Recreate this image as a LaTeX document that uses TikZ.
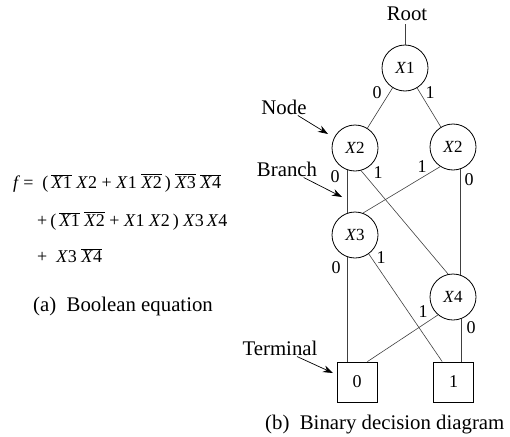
\documentclass[tikz,border=0pt]{standalone}
\usepackage{fontspec}
\setmainfont{Liberation Serif}
\usetikzlibrary{arrows.meta}

\newcommand{\ovl}[1]{$\overline{\mbox{#1}}$}
\newcommand{\xv}[1]{\textit{X}#1}

\tikzset{
  every node/.style={font=\fontsize{20.8}{25}\selectfont},
  bddvar/.style={draw,circle,minimum size=46pt,inner sep=0pt,line width=0.8pt,
    font=\fontsize{17}{20}\selectfont},
  bddterm/.style={draw,rectangle,minimum size=40pt,inner sep=0pt,line width=0.8pt,
    font=\fontsize{18}{20}\selectfont},
  bddedge/.style={line width=0.6pt,black!75},
  edgelbl/.style={font=\fontsize{18}{20}\selectfont},
  pointer/.style={-{Stealth[length=10pt,width=7pt]},line width=0.7pt},
  txt/.style={inner sep=0pt,anchor=base west},
  eqline/.style={txt,font=\fontsize{18}{20}\selectfont}
}

\begin{document}
\begin{tikzpicture}[x=1pt,y=-1pt]
\useasboundingbox (0,0) rectangle (510,436);

% (a) equation
\node[eqline] (eqA) at (13,188) {\textit{f}\,=\ \ (\,\ovl{\xv1} \xv2 + \xv1 \ovl{\xv2}\,) \ovl{\xv3} \ovl{\xv4}};
\node[eqline] (eqB) at (37,226) {+\,(\,\ovl{\xv1} \ovl{\xv2} + \xv1 \xv2\,) \xv3\,\xv4};
\node[eqline] (eqC) at (37,262) {+\ \ \xv3 \ovl{\xv4}};
\node[txt] (capA) at (33,311) {(a)~~Boolean equation};

% (b) diagram
\node (root) at (407,14) {Root};

\node[bddvar] (x1) at (405,68) {\xv1};
\node[bddvar] (x2a) at (355,148) {\xv2};
\node[bddvar] (x2b) at (453,147) {\xv2};
\node[bddvar] (x3) at (355,235) {\xv3};
\node[bddvar] (x4) at (453,297) {\xv4};

\node[bddterm] (t0) at (357,382) {0};
\node[bddterm] (t1) at (453.5,382) {1};

\draw[bddedge] (x1.north |- root.south) -- (x1.north);
\draw[bddedge] (x1) -- (x2a);
\draw[bddedge] (x1) -- (x2b);
\draw[bddedge] (x2a.250) -- (x3.110);
\draw[bddedge] (x2a.-75) -- (x4.102);
\draw[bddedge] (x2b.-123) -- (x3.70);
\draw[bddedge] (x2b.-72) -- (x4.72);
\draw[bddedge] (x3.-108) -- (x3.-108 |- t0.north);
\draw[bddedge] (x3.-54) -- (t1.119);
\draw[bddedge] (x4.-130) -- (t0.63);
\draw[bddedge] (x4.-70) -- (x4.-70 |- t1.north);

% branch labels
\node[edgelbl] (e10) at (377,93) {0};
\node[edgelbl] (e11) at (430,93) {1};
\node[edgelbl] (e2a0) at (335,177) {0};
\node[edgelbl] (e2a1) at (378,173) {1};
\node[edgelbl] (e2b1) at (422,167) {1};
\node[edgelbl] (e2b0) at (469,180) {0};
\node[edgelbl] (e30) at (336,268) {0};
\node[edgelbl] (e31) at (381,258) {1};
\node[edgelbl] (e41) at (423,312) {1};
\node[edgelbl] (e40) at (471,328) {0};

% pointers
\node[inner sep=1pt] (lblNode) at (284,107) {Node};
\node[inner sep=1pt] (lblBranch) at (287,169) {Branch};
\node[inner sep=1pt] (lblTerm) at (280,348) {Terminal};
\coordinate (ptNode) at (328,134);
\coordinate (ptBranch) at (342,197);
\coordinate (ptTerm) at (333,373);
\draw[pointer] (lblNode) -- (ptNode);
\draw[pointer] (lblBranch) -- (ptBranch);
\draw[pointer] ([xshift=17pt]lblTerm.south) -- (ptTerm);

\node[txt] (capB) at (265,429) {(b)~~Binary decision diagram};

\end{tikzpicture}
\end{document}
